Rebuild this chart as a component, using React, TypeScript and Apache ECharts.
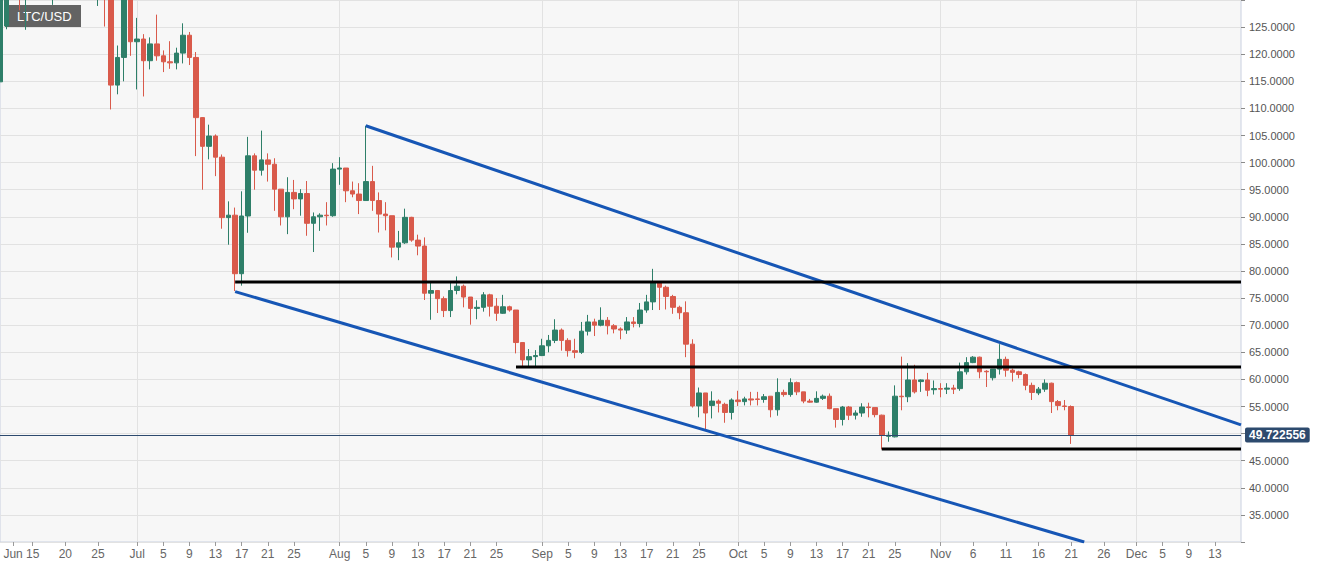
import React, { useEffect, useRef } from "react";
import * as echarts from "echarts";

const FONT = '"Liberation Sans", Arial, sans-serif';

const firstDay = "2018-06-10";
const dayCount = 191; // Jun 10 .. Dec 17

// one candle per day from firstDay: [open, close, low, high]
const ohlc: number[][] = [
  [114.9, 132, 112.7, 134], [125.2, 133, 124.6, 135], [134, 132, 131, 136], [133, 131, 128.1, 135],
  [130.5, 133, 124.5, 135], [133, 134.5, 131, 137], [134.5, 133, 131, 136], [133, 135, 131.5, 138],
  [134, 136, 129.1, 139], [136, 134, 131.5, 138], [134, 137, 132, 139], [137, 135, 132, 140],
  [135, 133, 131, 137], [133, 134, 131, 136], [134, 132, 130.5, 136], [132, 134, 128.9, 136],
  [134, 131, 125.1, 135], [131, 114.3, 109.8, 132], [114.3, 119.4, 112.6, 121.6], [119.4, 131, 115.0, 132],
  [131, 122.3, 119.7, 132], [122.3, 122.8, 113.5, 126.7], [122.8, 118.8, 112.2, 123.7], [118.8, 121.9, 117.2, 123.1],
  [121.9, 119.7, 118.8, 127.3], [119.7, 118.6, 116.7, 120.7], [118.6, 118.4, 117.3, 122.4], [118.4, 120.2, 117.2, 121.2],
  [120.2, 123.5, 118.3, 125.7], [123.5, 119.4, 118.0, 124.1], [119.4, 108.3, 101.2, 120.4], [108.3, 103.0, 95.0, 108.4],
  [103.0, 104.9, 100.6, 107.0], [104.9, 101.0, 97.5, 105.2], [101.0, 89.85, 87.8, 101.5], [89.85, 90.3, 84.85, 92.85],
  [90.3, 79.5, 76.3, 91.7], [79.5, 90.15, 77.3, 94.7], [90.15, 101.25, 87.05, 104.75], [101.25, 98.6, 95.0, 101.7],
  [98.6, 100.5, 97.6, 105.9], [100.5, 99.7, 96.5, 101.7], [99.7, 95.1, 91.1, 100.8], [95.1, 90.0, 88.4, 95.1],
  [90.0, 94.5, 86.8, 97.3], [94.5, 93.3, 91.4, 96.8], [93.3, 94.3, 90.2, 95.1], [94.3, 88.8, 86.5, 96.6],
  [88.8, 90.0, 83.5, 90.8], [90.0, 90.3, 87.4, 90.65], [90.3, 90.2, 88.4, 92.7], [90.2, 98.8, 90.0, 99.9],
  [98.8, 99.0, 95.9, 101.0], [99.0, 94.8, 92.7, 99.0], [94.8, 94.2, 93.6, 96.5], [94.2, 93.0, 90.5, 96.2],
  [93.0, 96.5, 93.0, 106.8], [96.5, 93.0, 91.1, 99.4], [93.0, 90.5, 87.1, 94.5], [90.5, 90.2, 87.5, 92.7],
  [90.2, 84.4, 82.5, 90.2], [84.4, 85.2, 82.0, 87.4], [85.2, 89.9, 85.0, 91.5], [89.9, 85.7, 85.4, 90.0],
  [85.7, 84.6, 82.9, 86.7], [84.6, 75.9, 74.65, 86.2], [75.9, 76.4, 71.0, 77.85], [76.4, 74.9, 72.25, 76.5],
  [74.9, 72.7, 71.5, 75.3], [72.7, 76.4, 71.5, 77.8], [76.4, 77.2, 75.7, 79.0], [77.2, 75.2, 73.3, 77.5],
  [75.2, 73.1, 70.1, 75.2], [73.1, 73.3, 71.1, 74.6], [73.3, 75.6, 72.5, 76.1], [75.6, 73.5, 71.6, 75.8],
  [73.5, 72.2, 70.8, 75.0], [72.2, 73.4, 72.1, 75.6], [73.4, 72.8, 72.5, 73.6], [72.8, 66.8, 64.8, 72.8],
  [66.8, 63.6, 62.3, 66.8], [63.6, 64.2, 62.3, 65.6], [64.2, 64.4, 62.3, 65.4], [64.4, 66.2, 64.3, 67.5],
  [66.2, 67.2, 65.0, 68.2], [67.2, 69.1, 66.7, 71.1], [69.1, 67.2, 65.3, 69.4], [67.2, 65.3, 64.2, 67.6],
  [65.3, 65.0, 63.9, 67.5], [65.0, 68.9, 64.7, 70.6], [68.9, 70.6, 68.1, 71.9], [70.6, 70.0, 68.0, 71.2],
  [70.0, 70.9, 69.8, 73.3], [70.9, 69.9, 68.3, 71.5], [69.9, 69.3, 68.5, 70.2], [69.3, 69.1, 67.4, 69.6],
  [69.1, 70.6, 68.4, 71.5], [70.6, 70.3, 69.6, 71.5], [70.3, 72.8, 69.6, 74.1], [72.8, 74.3, 72.3, 75.6],
  [74.3, 77.8, 72.8, 80.4], [77.8, 77.0, 72.8, 78.1], [77.0, 75.3, 72.9, 77.3], [75.3, 73.3, 72.1, 75.6],
  [73.3, 72.3, 71.1, 73.6], [72.3, 66.5, 64.1, 74.4], [66.5, 55.1, 54.8, 67.4], [55.1, 57.5, 53.0, 58.5],
  [57.5, 53.8, 50.8, 57.5], [55.2, 56.0, 52.8, 57.8], [56.0, 55.6, 53.9, 56.3], [55.4, 53.9, 52.0, 55.7],
  [53.9, 56.2, 52.6, 56.5], [56.2, 55.9, 55.1, 57.9], [55.9, 56.4, 55.2, 56.8], [56.4, 56.2, 55.2, 57.7],
  [56.4, 56.3, 55.2, 57.7], [56.3, 56.8, 55.7, 57.3], [56.9, 54.4, 53.0, 56.9], [54.4, 57.6, 53.3, 60.2],
  [57.6, 57.2, 56.8, 58.1], [57.2, 59.4, 56.8, 60.2], [59.4, 57.7, 57.1, 59.6], [57.7, 56.0, 55.6, 57.7],
  [56.0, 55.8, 55.7, 56.4], [55.8, 56.5, 55.7, 57.8], [56.5, 56.9, 56.2, 57.2], [56.9, 54.6, 54.5, 57.4],
  [54.6, 52.6, 51.1, 54.6], [52.6, 54.9, 51.5, 55.1], [54.9, 53.4, 52.5, 55.1], [53.4, 53.8, 52.6, 54.3],
  [53.8, 54.9, 53.1, 55.6], [54.9, 54.8, 53.0, 55.7], [54.8, 53.5, 53.0, 54.8], [53.4, 49.7, 47.1, 53.5],
  [49.5, 49.7, 48.5, 50.4], [49.4, 56.9, 49.3, 58.9], [56.9, 56.8, 54.3, 64.2], [56.8, 59.9, 55.8, 63.0],
  [59.9, 57.7, 57.4, 62.7], [59.6, 59.9, 57.7, 60.0], [59.9, 58.0, 56.9, 61.2], [58.1, 58.3, 57.2, 59.8],
  [58.3, 58.2, 56.7, 59.3], [58.2, 58.4, 57.3, 59.3], [58.4, 58.2, 57.3, 59.0], [58.3, 61.4, 57.9, 63.1],
  [61.4, 63.1, 60.9, 64.1], [63.1, 64.1, 63.0, 64.3], [64.1, 61.4, 60.2, 64.2], [61.5, 61.4, 58.6, 61.7],
  [60.3, 61.9, 59.8, 61.9], [61.9, 63.7, 60.9, 66.5], [63.7, 61.7, 60.5, 64.2], [61.7, 61.3, 59.6, 62.0],
  [61.4, 60.9, 60.2, 61.6], [60.9, 58.9, 58.0, 61.1], [58.9, 57.6, 56.2, 59.4], [57.5, 58.2, 57.1, 58.6],
  [58.2, 59.3, 57.7, 60.0], [59.3, 55.9, 53.8, 59.4], [55.9, 55.2, 54.3, 56.2], [55.1, 55.0, 54.3, 56.2],
  [55.0, 49.722556, 48.1, 55.2],
];

const xTickDates = [
  "2018-06-12", "2018-06-15", "2018-06-20", "2018-06-25",
  "2018-07-01", "2018-07-05", "2018-07-09", "2018-07-13", "2018-07-17", "2018-07-21", "2018-07-25",
  "2018-08-01", "2018-08-05", "2018-08-09", "2018-08-13", "2018-08-17", "2018-08-21", "2018-08-25",
  "2018-09-01", "2018-09-05", "2018-09-09", "2018-09-13", "2018-09-17", "2018-09-21", "2018-09-25",
  "2018-10-01", "2018-10-05", "2018-10-09", "2018-10-13", "2018-10-17", "2018-10-21", "2018-10-25",
  "2018-11-01", "2018-11-06", "2018-11-11", "2018-11-16", "2018-11-21", "2018-11-26",
  "2018-12-01", "2018-12-05", "2018-12-09", "2018-12-13",
];
const xTickLabels = [
  "Jun", "15", "20", "25",
  "Jul", "5", "9", "13", "17", "21", "25",
  "Aug", "5", "9", "13", "17", "21", "25",
  "Sep", "5", "9", "13", "17", "21", "25",
  "Oct", "5", "9", "13", "17", "21", "25",
  "Nov", "6", "11", "16", "21", "26",
  "Dec", "5", "9", "13",
];
const monthStarts = ["2018-07-01", "2018-08-01", "2018-09-01", "2018-10-01", "2018-11-01", "2018-12-01"];

const upperChannel: [string, number][] = [["2018-08-05", 106.8], ["2018-12-17", 51.6]];
const lowerChannel: [string, number][] = [["2018-07-16", 76.2], ["2018-11-23", 30.0]];
const resistanceTop: [string, number][] = [["2018-07-16", 77.95], ["2018-12-17", 77.95]];
const resistanceMid: [string, number][] = [["2018-08-28", 62.3], ["2018-12-17", 62.3]];
const supportLow: [string, number][] = [["2018-10-23", 47.15], ["2018-12-17", 47.15]];
const lastPrice = 49.722556;
const pairName = "LTC/USD";

function buildDays(): string[] {
  const out: string[] = [];
  const [y, m, d] = firstDay.split("-").map(Number);
  const start = Date.UTC(y, m - 1, d);
  for (let i = 0; i < dayCount; i++) {
    const t = new Date(start + i * 86400000);
    const mm = String(t.getUTCMonth() + 1).padStart(2, "0");
    const dd = String(t.getUTCDate()).padStart(2, "0");
    out.push(`${t.getUTCFullYear()}-${mm}-${dd}`);
  }
  return out;
}

export default function App() {
  const ref = useRef<HTMLDivElement>(null);
  useEffect(() => {
    if (!ref.current) return;
    const chart = echarts.init(ref.current, null, { renderer: "svg" });
    const days = buildDays();
    const tickSet = new Set(xTickDates);
    const monthSet = new Set(monthStarts);
    const labelMap: Record<string, string> = {};
    xTickDates.forEach((d, i) => (labelMap[d] = xTickLabels[i]));

    const lineSeries = (data: [string, number][], color: string) => ({
      type: "line",
      data,
      symbol: "none",
      showSymbol: false,
      silent: true,
      clip: true,
      z: 5,
      lineStyle: { color, width: 3 },
    });

    chart.setOption({
      animation: false,
      textStyle: { fontFamily: FONT },
      grid: {
        left: 0,
        right: 90,
        top: 0,
        height: 542,
        containLabel: false,
        outerBoundsMode: "none",
        show: true,
        backgroundColor: "#f7f7f7",
        borderColor: "#c9d0e0",
        borderWidth: 1,
      },
      xAxis: {
        type: "category",
        data: days,
        boundaryGap: false,
        axisLine: { show: false },
        axisTick: {
          show: true,
          interval: (_i: number, v: string) => tickSet.has(v),
          length: 4,
          lineStyle: { color: "#9a9a9a" },
        },
        axisLabel: {
          interval: (_i: number, v: string) => tickSet.has(v),
          formatter: (v: string) => labelMap[v] ?? "",
          fontSize: 12,
          color: "#666",
          margin: 6,
          fontFamily: FONT,
        },
        splitLine: {
          show: true,
          interval: (_i: number, v: string) => monthSet.has(v),
          lineStyle: { color: "#e2e2e2", width: 1 },
        },
      },
      yAxis: {
        type: "value",
        position: "right",
        min: 30,
        max: 130,
        interval: 5,
        axisLine: { show: false },
        axisTick: { show: true, length: 4, lineStyle: { color: "#8a8a8a" } },
        axisLabel: {
          fontSize: 11,
          color: "#555",
          margin: 8,
          fontFamily: FONT,
          formatter: (v: number) => (v === 30 || v === 130 || v === 50 ? "" : v.toFixed(4)),
        },
        splitLine: { show: true, lineStyle: { color: "#e2e2e2", width: 1 } },
      },
      series: [
        {
          type: "candlestick",
          data: ohlc,
          barWidth: 5,
          clip: true,
          z: 3,
          itemStyle: {
            color: "#2e7f69",
            color0: "#d95a4b",
            borderColor: "#2e7f69",
            borderColor0: "#d95a4b",
            borderWidth: 1,
          },
          markLine: {
            symbol: ["none", "none"],
            silent: true,
            z: 4,
            data: [{ yAxis: lastPrice }],
            lineStyle: { color: "#2d4a6e", width: 1, type: "solid" },
            label: {
              show: true,
              position: "end",
              distance: 4,
              formatter: String(lastPrice),
              backgroundColor: "#2d4a6e",
              color: "#fff",
              fontWeight: "bold",
              fontSize: 12,
              fontFamily: FONT,
              padding: [2, 4, 1, 4],
              borderRadius: 2,
            },
          },
        },
        lineSeries(upperChannel, "#1656b5"),
        lineSeries(lowerChannel, "#1656b5"),
        lineSeries(resistanceTop, "#000000"),
        lineSeries(resistanceMid, "#000000"),
        lineSeries(supportLow, "#000000"),
      ],
      graphic: [
        {
          type: "group",
          left: 5,
          top: 5,
          z: 100,
          children: [
            { type: "rect", shape: { x: 0, y: 0, width: 76, height: 22 }, style: { fill: "#636363" } },
            {
              type: "text",
              x: 12,
              y: 11,
              style: {
                text: pairName,
                fill: "#ffffff",
                fontSize: 13,
                fontFamily: FONT,
                verticalAlign: "middle",
                align: "left",
              },
            },
          ],
        },
      ],
    });
    return () => chart.dispose();
  }, []);
  return (
    <div
      ref={ref}
      style={{ position: "absolute", left: 0, top: 0, width: 1331, height: 566, background: "#ffffff" }}
    />
  );
}
